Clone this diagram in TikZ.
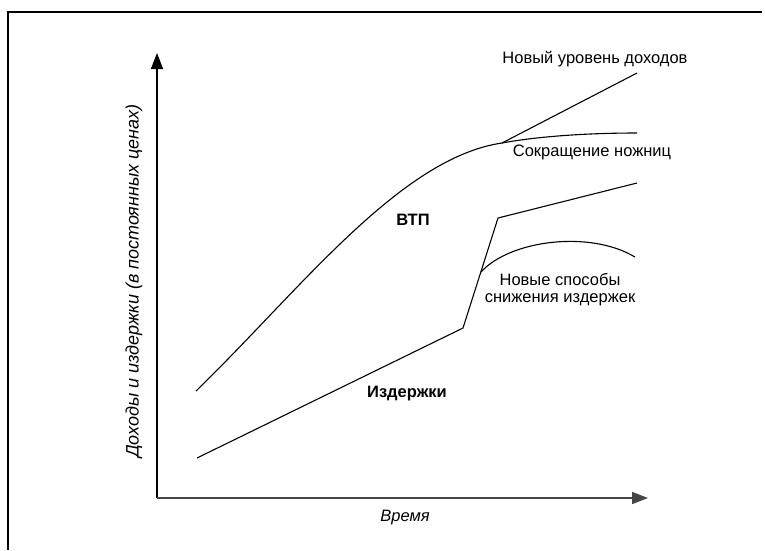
\documentclass[tikz,border=0pt]{standalone}
\usepackage{fontspec}
\setmainfont{Liberation Sans}
\usetikzlibrary{arrows.meta}
\definecolor{axisgray}{RGB}{70,70,70}
\begin{document}
\begin{tikzpicture}[x=1pt,y=-1pt,
  curve/.style={line width=1.1pt,black},
  axis/.style={line width=1.5pt,-{Triangle[length=16pt,width=12pt]}},
  lbl/.style={font=\fontsize{16.5}{17}\selectfont,inner sep=0pt},
  boldlbl/.style={lbl,font=\fontsize{16.5}{17}\selectfont\bfseries},
  axlbl/.style={lbl,font=\fontsize{16.5}{17}\selectfont\itshape}]
\useasboundingbox (0,0) rectangle (765,550);
\fill[white] (0,0) rectangle (765,550);
% frame
\draw[line width=1.2pt] (8,550) -- (8,12) -- (762,12);

% axes
\coordinate (O) at (157,498);
\coordinate (ytop) at (157,53);
\coordinate (xend) at (648,498);
\draw[axis,black] (O) -- (ytop);
\draw[axis,draw=axisgray,fill=black] (O) -- (xend);

% income curve and its two continuations
\coordinate (i0) at (196,391);
\coordinate (ij) at (502,143);
\coordinate (inew) at (637,73);
\coordinate (iflat) at (637,133);
\draw[curve] (i0) .. controls (300,290) and (400,158) .. (ij);
\draw[curve] (ij) -- (inew);
\draw[curve] (ij) .. controls (540,136) and (590,133) .. (iflat);

% cost line and the branch of new cost-reduction methods
\coordinate (c0) at (197,458);
\coordinate (c1) at (463,328);
\coordinate (c2) at (498,218);
\coordinate (c3) at (637,183);
\coordinate (cb) at (481,272);
\coordinate (cb2) at (635,257);
\draw[curve] (c0) -- (c1) -- (c2) -- (c3);
\draw[curve] (cb) .. controls (510,240) and (590,230) .. (cb2);

% labels
\node[lbl] (tnew) at (595,59) {Новый уровень доходов};
\node[lbl] (tscis) at (592,152) {Сокращение ножниц};
\node[boldlbl] (tvtp) at (413,220) {ВТП};
\node[lbl,align=center] (tways) at (560,290) {Новые способы\\снижения издержек};
\node[boldlbl] (tcost) at (407,394) {Издержки};
\node[axlbl] (ttime) at (405,518) {Время};
\node[axlbl,font=\fontsize{18}{19}\selectfont\itshape,rotate=90] (tinc) at (134,281) {Доходы и издержки (в постоянных ценах)};
\end{tikzpicture}
\end{document}
